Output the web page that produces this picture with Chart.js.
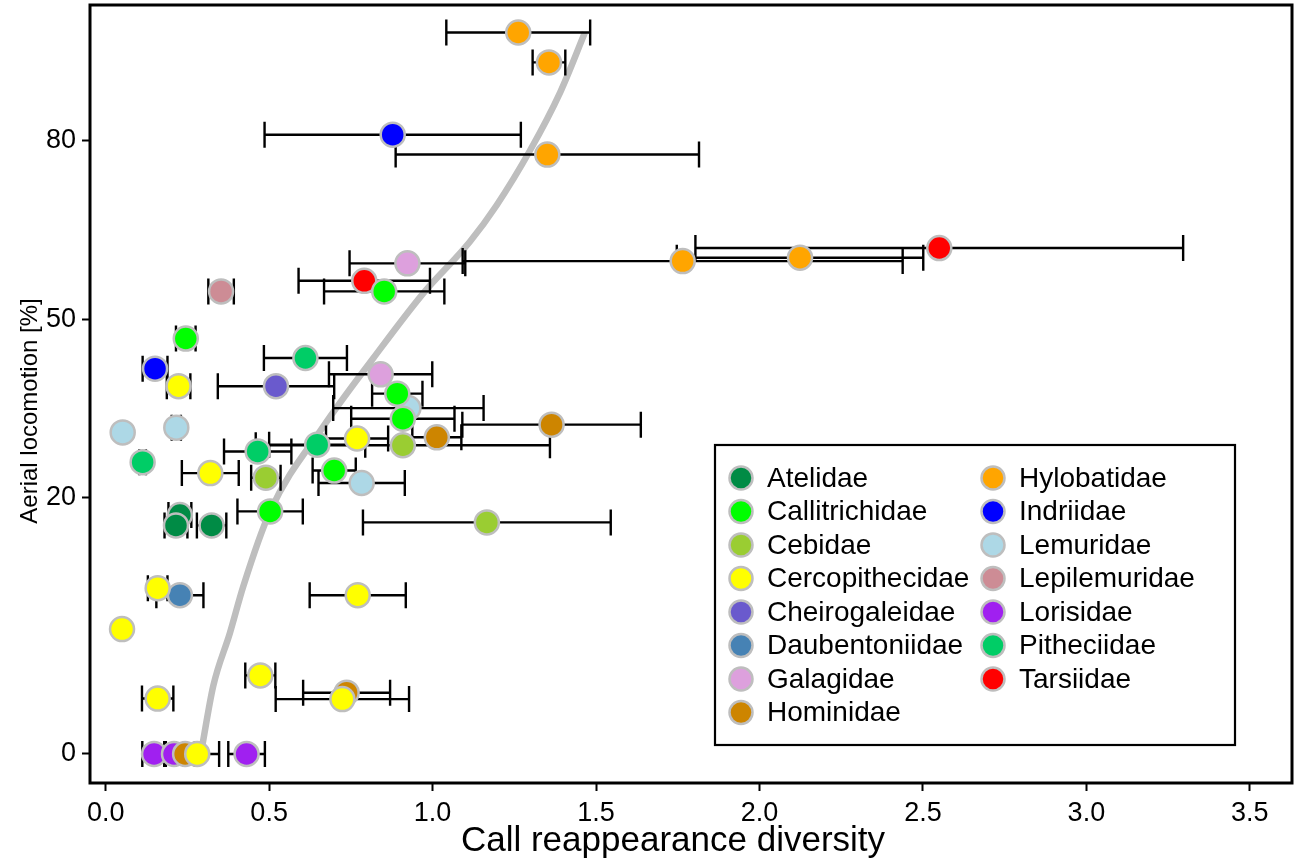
<!DOCTYPE html>
<html>
<head>
<meta charset="utf-8">
<script src="https://cdn.jsdelivr.net/npm/chart.js@4.4.0/dist/chart.umd.min.js"></script>
<style>
  html, body { margin: 0; padding: 0; background: #fff; }
</style>
</head>
<body>
<canvas id="aerial-canvas" width="1294" height="859"></canvas>
<script>
const families = ["Atelidae", "Callitrichidae", "Cebidae", "Cercopithecidae", "Cheirogaleidae",
  "Daubentoniidae", "Galagidae", "Hominidae", "Hylobatidae", "Indriidae", "Lemuridae",
  "Lepilemuridae", "Lorisidae", "Pitheciidae", "Tarsiidae"];
const familyColors = ["#008B45", "#00FF00", "#9ACD32", "#FFFF00", "#6A5ACD",
  "#4682B4", "#DDA0DD", "#CD8500", "#FFA500", "#0000FF", "#ADD8E6",
  "#CD8C95", "#A020F0", "#00CD66", "#FF0000"];

// one entry per species
const pointFamily = [
  "Hylobatidae", "Hylobatidae", "Hylobatidae", "Hylobatidae", "Hylobatidae",
  "Indriidae", "Indriidae",
  "Tarsiidae", "Tarsiidae",
  "Galagidae", "Galagidae",
  "Callitrichidae", "Callitrichidae", "Callitrichidae", "Callitrichidae", "Callitrichidae", "Callitrichidae",
  "Lepilemuridae",
  "Cercopithecidae", "Cercopithecidae", "Cercopithecidae", "Cercopithecidae", "Cercopithecidae",
  "Cercopithecidae", "Cercopithecidae", "Cercopithecidae", "Cercopithecidae", "Cercopithecidae",
  "Pitheciidae", "Pitheciidae", "Pitheciidae", "Pitheciidae",
  "Cheirogaleidae",
  "Lemuridae", "Lemuridae", "Lemuridae", "Lemuridae",
  "Hominidae", "Hominidae", "Hominidae", "Hominidae",
  "Cebidae", "Cebidae", "Cebidae",
  "Atelidae", "Atelidae", "Atelidae",
  "Daubentoniidae",
  "Lorisidae", "Lorisidae", "Lorisidae"
];
const diversity = [
  1.262, 1.356, 1.351, 1.765, 2.124,
  0.878, 0.151,
  2.550, 0.791,
  0.923, 0.841,
  0.852, 0.245, 0.892, 0.909, 0.699, 0.503,
  0.353,
  0.223, 0.769, 0.320, 0.159, 0.050, 0.771, 0.473, 0.159, 0.724, 0.280,
  0.611, 0.113, 0.465, 0.647,
  0.521,
  0.926, 0.052, 0.216, 0.783,
  1.013, 1.364, 0.737, 0.243,
  0.909, 0.490, 1.166,
  0.227, 0.215, 0.324,
  0.227,
  0.148, 0.209, 0.431
];
const diversitySD = [
  0.220, 0.050, 0.464, 0.673, 0.377,
  0.392, 0.038,
  0.746, 0.201,
  0.177, 0.158,
  0.184, 0.030, 0.077, 0.158, 0.066, 0.100,
  0.039,
  0.036, 0.095, 0.087, 0.030, 0, 0.147, 0.046, 0.048, 0.204, 0.067,
  0.127, 0.010, 0.103, 0.147,
  0.178,
  0.230, 0, 0.014, 0.132,
  0.075, 0.273, 0.133, 0.030,
  0.450, 0.045, 0.379,
  0.035, 0.035, 0.045,
  0.072,
  0.036, 0.030, 0.056
];
const aerial = [
  93.0, 90.0, 78.0, 60.4, 61.0,
  80.9, 41.1,
  62.7, 56.9,
  60.0, 40.1,
  55.0, 46.5, 36.7, 32.4, 24.0, 18.0,
  55.0,
  38.0, 29.1, 23.6, 8.7, 5.0, 8.0, 2.0, 1.0, 0.98, 0,
  43.0, 25.3, 27.0, 28.1,
  38.0,
  34.2, 30.1, 30.9, 22.1,
  29.3, 31.4, 1.22, 0,
  28.0, 22.9, 16.5,
  17.5, 16.1, 16.1,
  8.0,
  0, 0, 0
];

// fitted trend
const trendDiversity = [0.294, 0.329, 0.380, 0.421, 0.503, 0.666, 0.819, 0.972, 1.114, 1.196, 1.298, 1.390, 1.466];
const trendAerial = [0.01, 1.5, 4.7, 8.9, 18.0, 31.1, 43.0, 54.7, 63.8, 70.0, 78.6, 86.5, 93.0];

const xTicks = [0, 0.5, 1, 1.5, 2, 2.5, 3, 3.5];
const yTicks = [0, 20, 50, 80];

const fontFamily = "'Liberation Sans', Arial, Helvetica, sans-serif";

// arcsine square-root of a percentage
function asinSqrt(p) {
  return Math.asin(Math.sqrt(p / 100));
}

const errorBars = {
  id: 'errorBars',
  afterDatasetDraw(chart, args) {
    if (args.index !== 0) return;   // right after the trend line
    const ctx = chart.ctx;
    const xs = chart.scales.x, ys = chart.scales.y;
    ctx.save();
    ctx.strokeStyle = '#000';
    ctx.lineWidth = 2.4;
    for (let i = 0; i < diversity.length; i++) {
      if (!diversitySD[i]) continue;
      let y = ys.getPixelForValue(asinSqrt(aerial[i]));
      let x0 = xs.getPixelForValue(diversity[i] - diversitySD[i]);
      let x1 = xs.getPixelForValue(diversity[i] + diversitySD[i]);
      ctx.beginPath();
      ctx.moveTo(x0, y); ctx.lineTo(x1, y);
      ctx.moveTo(x0, y - 13); ctx.lineTo(x0, y + 13);
      ctx.moveTo(x1, y - 13); ctx.lineTo(x1, y + 13);
      ctx.stroke();
    }
    ctx.restore();
  }
};

const frameAndLegend = {
  id: 'frameAndLegend',
  afterDatasetsDraw(chart) {
    const ctx = chart.ctx;
    const area = chart.chartArea;
    ctx.save();
    ctx.strokeStyle = '#000';
    ctx.lineWidth = 3;
    ctx.strokeRect(area.left, area.top, area.right - area.left, area.bottom - area.top);

    // legend box, two columns
    let bx = area.right - 577, by = area.top + 440, bw = 520, bh = 300;
    ctx.fillStyle = '#fff';
    ctx.fillRect(bx, by, bw, bh);
    ctx.lineWidth = 2.2;
    ctx.strokeRect(bx, by, bw, bh);
    ctx.font = '28px ' + fontFamily;
    ctx.textBaseline = 'middle';
    ctx.textAlign = 'left';
    families.forEach((f, k) => {
      let col = k < 8 ? 0 : 1;
      let row = k < 8 ? k : k - 8;
      let cx = bx + 26 + col * 252;
      let cy = by + 33 + row * 33.5;
      ctx.beginPath();
      ctx.arc(cx, cy, 11.5, 0, Math.PI * 2);
      ctx.fillStyle = familyColors[k];
      ctx.fill();
      ctx.lineWidth = 2.5;
      ctx.strokeStyle = '#BEBEBE';
      ctx.stroke();
      ctx.fillStyle = '#000';
      ctx.fillText(f, cx + 26, cy + 1);
    });

    // axis titles
    ctx.fillStyle = '#000';
    ctx.textAlign = 'center';
    ctx.font = '35px ' + fontFamily;
    ctx.fillText('Call reappearance diversity', (area.left + area.right) / 2 - 18, 841);
    ctx.translate(30, (area.top + area.bottom) / 2 + 17);
    ctx.rotate(-Math.PI / 2);
    ctx.font = '24px ' + fontFamily;
    ctx.fillText('Aerial locomotion [%]', 0, 0);
    ctx.restore();
  }
};

const trendDataset = {
  type: 'line',
  label: 'trend',
  data: trendDiversity.map((x, i) => ({x: x, y: asinSqrt(trendAerial[i])})),
  borderColor: '#BEBEBE',
  borderWidth: 6.5,
  pointRadius: 0,
  fill: false,
  cubicInterpolationMode: 'monotone',
  order: 1
};

const familyDatasets = families.map((f, k) => {
  let pts = [];
  for (let i = 0; i < diversity.length; i++) {
    if (pointFamily[i] === f) pts.push({x: diversity[i], y: asinSqrt(aerial[i])});
  }
  return {
    type: 'scatter',
    label: f,
    data: pts,
    backgroundColor: familyColors[k],
    borderColor: '#BEBEBE',
    borderWidth: 2.5,
    pointRadius: 12,
    pointHoverRadius: 12,
    order: 0
  };
});

let ctx = document.getElementById('aerial-canvas').getContext('2d');
let aerialChart = new Chart(ctx, {
  type: 'scatter',
  data: { datasets: [trendDataset].concat(familyDatasets) },
  options: {
    responsive: false,
    animation: false,
    layout: { autoPadding: false, padding: { left: 0, right: 2, top: 5, bottom: 0 } },
    plugins: { legend: { display: false }, tooltip: { enabled: false } },
    scales: {
      x: {
        type: 'linear',
        min: -0.048,
        max: 3.629,
        afterBuildTicks: (s) => { s.ticks = xTicks.map(v => ({value: v})); },
        afterFit: (s) => { s.height = 76; s.paddingLeft = 0; s.paddingRight = 0; },
        grid: { drawOnChartArea: false, drawTicks: true, tickLength: 8, tickWidth: 2, tickColor: '#000' },
        border: { display: false },
        ticks: {
          color: '#000', padding: 6, maxRotation: 0, autoSkip: false,
          font: { family: fontFamily, size: 27 },
          callback: (v) => Number(v).toFixed(1)
        }
      },
      y: {
        type: 'linear',
        min: -0.0524,
        max: 1.3527,
        afterBuildTicks: (s) => { s.ticks = yTicks.map(v => ({value: asinSqrt(v)})); },
        afterFit: (s) => { s.width = 90; s.paddingTop = 0; s.paddingBottom = 0; },
        grid: { drawOnChartArea: false, drawTicks: true, tickLength: 8, tickWidth: 2, tickColor: '#000' },
        border: { display: false },
        ticks: {
          color: '#000', padding: 6, autoSkip: false,
          font: { family: fontFamily, size: 27 },
          callback: (v, i) => String(yTicks[i])
        }
      }
    }
  },
  plugins: [errorBars, frameAndLegend]
});
</script>
</body>
</html>
